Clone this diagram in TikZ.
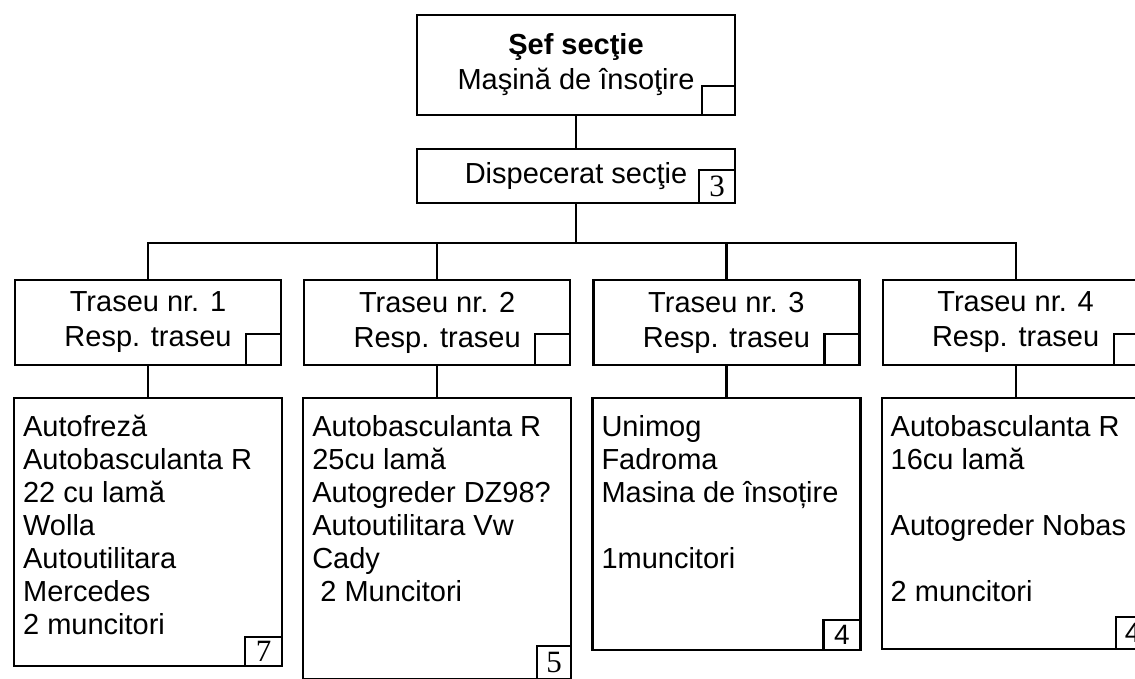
\documentclass[tikz,border=0pt]{standalone}
\usepackage{fontspec}
\setmainfont{Liberation Sans}
\newfontfamily\numfont{Liberation Serif}
\usepackage{tikz}
\usetikzlibrary{positioning}

\begin{document}
\begin{tikzpicture}[
    x=1pt, y=1pt,
    node distance=21pt,
    box/.style={rectangle, draw, line width=2.2pt, align=center, font=\fontsize{29}{35}\selectfont},
    eqbox/.style={rectangle, draw, line width=2.2pt, minimum width=268pt},
    eqtext/.style={anchor=north west, align=left, inner sep=0pt, font=\fontsize{29}{33}\selectfont},
    numbox/.style={rectangle, draw, line width=2.2pt, anchor=south east, inner sep=0pt, minimum width=35pt, minimum height=31pt, font=\numfont\fontsize{31}{31}\selectfont},
    link/.style={line width=2.2pt}
]
    \useasboundingbox (0,0) rectangle (1135,-679);

    % Sef sectie
    \node[box, minimum width=318pt, minimum height=100pt] (sef) at (576,-65) {\textbf{Şef secţie}\\Maşină de însoţire};
    \node[numbox, minimum width=33pt, minimum height=29pt] (qSef) at (sef.south east) {};

    % Dispecerat
    \node[box, minimum width=318pt, minimum height=54pt, below=32pt of sef] (disp) {Dispecerat secţie};
    \node[numbox, minimum width=36pt, minimum height=33pt] (qDisp) at (disp.south east) {3};
    \coordinate[below=39pt of disp] (bus);

    % Trasee
    \node[box, minimum width=266pt, minimum height=85pt] (trA) at (148,-322.5) {Traseu nr. 1\\Resp. traseu};
    \node[box, minimum width=266pt, minimum height=85pt, right=of trA] (trB) {Traseu nr. 2\\Resp. traseu};
    \node[box, minimum width=266pt, minimum height=85pt, right=of trB] (trC) {Traseu nr. 3\\Resp. traseu};
    \node[box, minimum width=266pt, minimum height=85pt, right=of trC] (trD) {Traseu nr. 4\\Resp. traseu};
    \foreach \t in {trA,trB,trC,trD}
        \node[numbox] (q\t) at (\t.south east) {};

    % Utilaje
    \node[eqbox, minimum height=268pt, below=31pt of trA] (eqA) {};
    \node[eqbox, minimum height=281pt, below=31pt of trB] (eqB) {};
    \node[eqbox, minimum height=252pt, below=31pt of trC] (eqC) {};
    \node[eqbox, minimum height=251pt, below=31pt of trD] (eqD) {};

    \node[eqtext] (txA) at ([shift={(10pt,-18pt)}]eqA.north west) {Autofreză\\Autobasculanta R\\22 cu lamă\\Wolla\\Autoutilitara\\Mercedes\\2 muncitori};
    \node[eqtext] (txB) at ([shift={(10pt,-18pt)}]eqB.north west) {Autobasculanta R\\25cu lamă\\Autogreder DZ98?\\Autoutilitara Vw\\Cady\\\ 2 Muncitori};
    \node[eqtext] (txC) at ([shift={(10pt,-18pt)}]eqC.north west) {Unimog\\Fadroma\\Masina de însoțire\\[33pt]1muncitori};
    \node[eqtext] (txD) at ([shift={(10pt,-18pt)}]eqD.north west) {Autobasculanta R\\16cu lamă\\[33pt]Autogreder Nobas\\[33pt]2 muncitori};

    \node[numbox, minimum width=37pt, minimum height=29pt] (nA) at (eqA.south east) {7};
    \node[numbox, minimum width=34pt, minimum height=33pt] (nB) at (eqB.south east) {5};
    \node[numbox, minimum width=37pt, minimum height=30pt, font=\fontsize{28}{28}\selectfont] (nC) at (eqC.south east) {4};
    \node[numbox, minimum width=34pt, minimum height=32pt, font=\fontsize{28}{28}\selectfont] (nD) at (eqD.south east) {4};

    % Legaturi
    \draw[link] (sef) -- (disp);
    \draw[link] (disp) -- (bus);
    \draw[link] (trA.north) |- (bus) -| (trD.north);
    \foreach \t in {trB,trC}
        \draw[link] (\t.north) -- (\t.north |- bus);
    \foreach \t/\e in {trA/eqA,trB/eqB,trC/eqC,trD/eqD}
        \draw[link] (\t) -- (\e);
\end{tikzpicture}
\end{document}
